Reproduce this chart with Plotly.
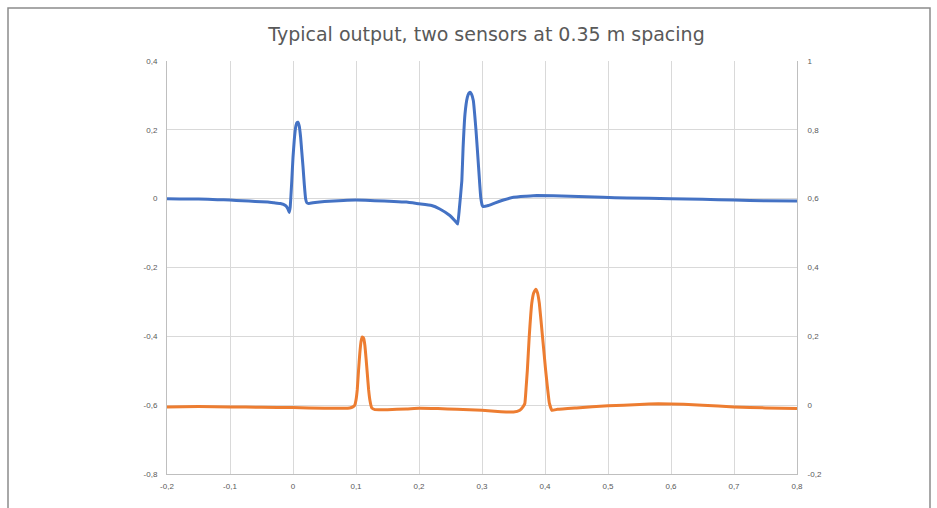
import plotly.graph_objects as go

# ---- data ----
blue_x = [-0.200, -0.180, -0.150, -0.120, -0.100, -0.080, -0.060, -0.040, -0.030, -0.020,
          -0.012, -0.008, -0.006, -0.0045, -0.002, 0.000, 0.002, 0.004, 0.006, 0.008,
          0.010, 0.012, 0.014, 0.016, 0.018, 0.020, 0.022, 0.025, 0.035, 0.050,
          0.080, 0.100, 0.130, 0.160, 0.180, 0.200, 0.220, 0.233, 0.249, 0.257,
          0.2614, 0.264, 0.268, 0.270, 0.273, 0.2767, 0.279, 0.281, 0.2835, 0.2862,
          0.2905, 0.2942, 0.298, 0.3005, 0.302, 0.310, 0.320, 0.334, 0.350, 0.370,
          0.387, 0.440, 0.492, 0.530, 0.600, 0.650, 0.700, 0.750, 0.800]
blue_y = [0.000, -0.001, -0.001, -0.003, -0.004, -0.006, -0.008, -0.010, -0.012, -0.014,
          -0.020, -0.030, -0.040, -0.025, 0.050, 0.120, 0.170, 0.205, 0.220, 0.222,
          0.210, 0.180, 0.135, 0.090, 0.040, 0.000, -0.012, -0.014, -0.011, -0.008,
          -0.005, -0.004, -0.006, -0.008, -0.010, -0.015, -0.020, -0.030, -0.049, -0.064,
          -0.074, -0.030, 0.052, 0.149, 0.246, 0.294, 0.306, 0.309, 0.303, 0.285,
          0.198, 0.101, 0.004, -0.020, -0.023, -0.020, -0.013, -0.004, 0.004, 0.007,
          0.009, 0.007, 0.004, 0.002, 0.000, -0.002, -0.004, -0.006, -0.007]

orange_x = [-0.200, -0.150, -0.100, -0.050, 0.000, 0.050, 0.080, 0.090, 0.095, 0.098,
            0.100, 0.102, 0.104, 0.106, 0.108, 0.110, 0.112, 0.114, 0.116, 0.118,
            0.120, 0.122, 0.125, 0.130, 0.150, 0.180, 0.200, 0.230, 0.260, 0.300,
            0.330, 0.350, 0.360, 0.365, 0.368, 0.370, 0.372, 0.375, 0.379, 0.382,
            0.3852, 0.388, 0.391, 0.396, 0.401, 0.407, 0.411, 0.420, 0.450, 0.500,
            0.550, 0.580, 0.620, 0.650, 0.700, 0.750, 0.800]
orange_y = [-0.005, -0.004, -0.005, -0.006, -0.007, -0.009, -0.009, -0.008, -0.005, 0.000,
            0.015, 0.045, 0.100, 0.150, 0.185, 0.198, 0.195, 0.175, 0.135, 0.090,
            0.045, 0.015, -0.008, -0.013, -0.013, -0.011, -0.009, -0.010, -0.012, -0.015,
            -0.019, -0.020, -0.015, -0.005, 0.005, 0.050, 0.102, 0.200, 0.296, 0.326,
            0.337, 0.327, 0.296, 0.200, 0.102, 0.005, -0.015, -0.012, -0.008, -0.002,
            0.002, 0.004, 0.003, 0.000, -0.005, -0.008, -0.010]

x_ticks = [-0.2, -0.1, 0.0, 0.1, 0.2, 0.3, 0.4, 0.5, 0.6, 0.7, 0.8]
x_labels = ["-0,2", "-0,1", "0", "0,1", "0,2", "0,3", "0,4", "0,5", "0,6", "0,7", "0,8"]
y1_ticks = [-0.8, -0.6, -0.4, -0.2, 0.0, 0.2, 0.4]
y1_labels = ["-0,8", "-0,6", "-0,4", "-0,2", "0", "0,2", "0,4"]
y2_ticks = [-0.2, 0.0, 0.2, 0.4, 0.6, 0.8, 1.0]
y2_labels = ["-0,2", "0", "0,2", "0,4", "0,6", "0,8", "1"]

title_text = "Typical output, two sensors at 0.35 m spacing"

W, H = 937, 508
L, R, T, B = 167, 140, 61, 34
pw, ph = W - L - R, H - T - B

tick_font = dict(family="Liberation Sans, Arial, sans-serif", size=8, color="#595959")

fig = go.Figure()
fig.add_trace(go.Scatter(x=blue_x, y=blue_y, mode="lines", yaxis="y",
                         line=dict(color="#4472C4", width=3, shape="spline", smoothing=0.3),
                         showlegend=False, hoverinfo="skip"))
fig.add_trace(go.Scatter(x=orange_x, y=orange_y, mode="lines", yaxis="y2",
                         line=dict(color="#ED7D31", width=3, shape="spline", smoothing=0.3),
                         showlegend=False, hoverinfo="skip"))

def px_x(p):
    return (p - L) / pw

def px_y(p):
    return 1 - (p - T) / ph

fig.update_layout(
    width=W, height=H,
    margin=dict(l=L, r=R, t=T, b=B, pad=0),
    paper_bgcolor="white", plot_bgcolor="white",
    title=dict(text=title_text, x=486.5 / W, xanchor="center", y=1 - 34 / H, yanchor="middle",
               font=dict(family="DejaVu Sans, Verdana, sans-serif", size=19, color="#595959")),
    xaxis=dict(range=[-0.2, 0.8], tickvals=x_ticks, ticktext=x_labels, tickfont=tick_font,
               showgrid=True, gridcolor="#D9D9D9", gridwidth=1, zeroline=False,
               showline=True, linecolor="#BFBFBF", linewidth=1, ticks="", ticklabelstandoff=4),
    yaxis=dict(range=[-0.8, 0.4], tickvals=y1_ticks, ticktext=y1_labels, tickfont=tick_font,
               showgrid=True, gridcolor="#D9D9D9", gridwidth=1, zeroline=False,
               showline=True, linecolor="#BFBFBF", linewidth=1, ticks="", ticklabelstandoff=7),
    yaxis2=dict(range=[-0.2, 1.0], tickvals=y2_ticks, ticktext=y2_labels, tickfont=tick_font,
                overlaying="y", side="right", showgrid=False, zeroline=False,
                showline=True, linecolor="#BFBFBF", linewidth=1, ticks="", ticklabelstandoff=8),
    shapes=[dict(type="rect", xref="paper", yref="paper",
                 x0=px_x(8), x1=px_x(930), y0=px_y(530), y1=px_y(8),
                 line=dict(color="#8C8C8C", width=1.5), fillcolor="rgba(0,0,0,0)", layer="below")],
)

fig.write_html("out.html")
